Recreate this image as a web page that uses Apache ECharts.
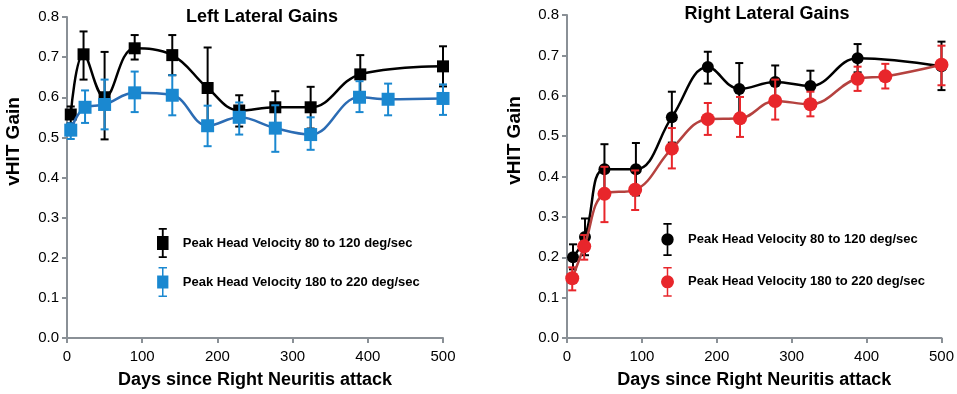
<!DOCTYPE html>
<html>
<head>
<meta charset="utf-8">
<script src="https://cdn.jsdelivr.net/npm/echarts@6/dist/echarts.min.js"></script>
<style>html,body{margin:0;padding:0;background:#fff}#c{width:957px;height:394px}</style>
</head>
<body>
<div id="c"></div>
<script>
// ---- data ----
const xTicks = [0, 100, 200, 300, 400, 500];
const yTicks = [0.0, 0.1, 0.2, 0.3, 0.4, 0.5, 0.6, 0.7, 0.8];
const titles = ['Left Lateral Gains', 'Right Lateral Gains'];
const label80 = 'Peak Head Velocity 80 to 120 deg/sec';
const label180 = 'Peak Head Velocity 180 to 220 deg/sec';

const leftDays80 = [5, 22, 50, 90, 140, 187, 229, 277, 324, 390, 500];
const left80     = [0.557, 0.707, 0.600, 0.722, 0.705, 0.623, 0.567, 0.575, 0.575, 0.657, 0.677];
const left80Hi   = [0.577, 0.764, 0.713, 0.755, 0.755, 0.724, 0.605, 0.615, 0.626, 0.705, 0.727];
const left80Lo   = [0.535, 0.644, 0.495, 0.694, 0.655, 0.522, 0.527, 0.535, 0.522, 0.610, 0.627];

const leftDays180 = [5, 24, 50, 90, 140, 187, 229, 277, 324, 389, 427, 500];
const left180     = [0.518, 0.575, 0.582, 0.611, 0.605, 0.529, 0.550, 0.523, 0.507, 0.600, 0.595, 0.597];
const left180Hi   = [0.535, 0.617, 0.644, 0.664, 0.655, 0.579, 0.587, 0.580, 0.550, 0.640, 0.634, 0.632];
const left180Lo   = [0.496, 0.536, 0.520, 0.563, 0.555, 0.478, 0.507, 0.464, 0.469, 0.563, 0.555, 0.556];

const rightDays80 = [8, 24, 50, 92, 140, 188, 230, 278, 325, 388, 500];
const right80     = [0.200, 0.250, 0.418, 0.418, 0.547, 0.671, 0.617, 0.634, 0.624, 0.693, 0.673];
const right80Hi   = [0.232, 0.296, 0.480, 0.483, 0.610, 0.709, 0.681, 0.675, 0.662, 0.728, 0.734];
const right80Lo   = [0.170, 0.205, 0.356, 0.353, 0.484, 0.630, 0.553, 0.593, 0.586, 0.658, 0.614];

const rightDays180 = [7, 23, 50, 91, 140, 188, 231, 278, 325, 388, 425, 500];
const right180     = [0.148, 0.227, 0.357, 0.367, 0.469, 0.542, 0.544, 0.587, 0.579, 0.642, 0.648, 0.677];
const right180Hi   = [0.175, 0.255, 0.424, 0.415, 0.520, 0.582, 0.597, 0.640, 0.610, 0.672, 0.679, 0.724];
const right180Lo   = [0.118, 0.194, 0.287, 0.317, 0.420, 0.503, 0.498, 0.541, 0.549, 0.612, 0.618, 0.626];

// ---- styling ----
const FONT = 'Liberation Sans, Arial, sans-serif';
const AXIS_GRAY = '#8a9096';
const BLACK = '#000000';
const BLUE = '#1a88d0', BLUE_LINE = '#2b6cb4';
const RED = '#e8262b', RED_LINE = '#b5423f';

const pts = (xs, ys) => xs.map((x, i) => [x, ys[i]]);
const errs = (xs, lo, hi) => xs.map((x, i) => [x, lo[i], hi[i]]);

function errSeries(name, gi, data, color, z) {
  return {
    type: 'custom', name: name + '_err', xAxisIndex: gi, yAxisIndex: gi, z: z,
    data: data, silent: true,
    renderItem: function (params, api) {
      const x = api.value(0);
      const lo = api.coord([x, api.value(1)]);
      const hi = api.coord([x, api.value(2)]);
      const cw = 4;
      const st = { stroke: color, lineWidth: 2 };
      return { type: 'group', children: [
        { type: 'line', shape: { x1: hi[0], y1: hi[1], x2: lo[0], y2: lo[1] }, style: st },
        { type: 'line', shape: { x1: hi[0] - cw, y1: hi[1], x2: hi[0] + cw, y2: hi[1] }, style: st },
        { type: 'line', shape: { x1: lo[0] - cw, y1: lo[1], x2: lo[0] + cw, y2: lo[1] }, style: st }
      ]};
    }
  };
}
function lineSeries(name, gi, data, mColor, lColor, symbol, size, z) {
  return {
    type: 'line', name: name, xAxisIndex: gi, yAxisIndex: gi, z: z,
    data: data, smooth: 0.4, symbol: symbol, symbolSize: size, showSymbol: true,
    itemStyle: { color: mColor, opacity: 1 },
    lineStyle: { color: lColor, width: 2.5 },
    emphasis: { disabled: true }, animation: false
  };
}

const grids = [
  { left: 67, right: 514, top: 17, bottom: 51 },
  { left: 567, right: 15, top: 15, bottom: 52 }
];
const xAxes = grids.map((g, i) => ({
  type: 'value', gridIndex: i, min: 0, max: 500, interval: 100,
  name: 'Days since Right Neuritis attack', nameLocation: 'middle', nameGap: 33,
  nameTextStyle: { fontFamily: FONT, fontWeight: 'bold', fontSize: 18, color: '#000' },
  axisLine: { show: true, lineStyle: { color: AXIS_GRAY, width: 2 } },
  axisTick: { show: true, length: 5, lineStyle: { color: AXIS_GRAY, width: 2 } },
  axisLabel: { fontFamily: FONT, fontSize: 15, color: '#000', margin: 11 },
  splitLine: { show: false }
}));
const yAxes = grids.map((g, i) => ({
  type: 'value', gridIndex: i, min: 0, max: 0.8, interval: 0.1,
  name: 'vHIT Gain', nameLocation: 'middle', nameGap: i === 0 ? 44 : 43,
  nameTextStyle: { fontFamily: FONT, fontWeight: 'bold', fontSize: 19, color: '#000',
    padding: [0, 0, 0, 72] },
  axisLine: { show: true, lineStyle: { color: AXIS_GRAY, width: 2 } },
  axisTick: { show: true, length: 5, lineStyle: { color: AXIS_GRAY, width: 2 } },
  axisLabel: { fontFamily: FONT, fontSize: 15, color: '#000', margin: 8,
    formatter: v => v.toFixed(1) },
  splitLine: { show: false }
}));

const sqIcon80 = 'path://M1.5,0H8.5V1.6H5.8V7H4.2V1.6H1.5Z M0,7H10V19H0Z M4.2,19H5.8V24.4H8.5V26H1.5V24.4H4.2Z';
const sqIcon180 = 'path://M1.5,0H10.5V1.6H6.8V9H5.2V1.6H1.5Z M0,9H12V23H0Z M5.2,23H6.8V30.4H10.5V32H1.5V30.4H5.2Z';
const ciIcon = 'path://M2,0H10V1.6H6.8V10.2H5.2V1.6H2Z M0,16A6,6 0 1,1 12,16A6,6 0 1,1 0,16Z M5.2,21.8H6.8V30.4H10V32H2V30.4H5.2Z';
const ciIconR = 'path://M2.5,0H11.5V1.6H7.8V9.2H6.2V1.6H2.5Z M0,16A7,7 0 1,1 14,16A7,7 0 1,1 0,16Z M6.2,22.8H7.8V30.4H11.5V32H2.5V30.4H6.2Z';

const legendText = { fontFamily: FONT, fontWeight: 'bold', fontSize: 13, color: '#000', padding: [0, 0, 0, 9] };
const fmt = n => (n.indexOf('180') >= 0 ? label180 : label80);

const option = {
  animation: false,
  backgroundColor: '#fff',
  title: [
    { text: titles[0], left: 257, top: 3, textAlign: 'center',
      textStyle: { fontFamily: FONT, fontWeight: 'bold', fontSize: 18, color: '#000' } },
    { text: titles[1], left: 762, top: 0, textAlign: 'center',
      textStyle: { fontFamily: FONT, fontWeight: 'bold', fontSize: 18, color: '#000' } }
  ],
  legend: [
    { orient: 'vertical', left: 152, top: 223, itemGap: 9, selectedMode: false,
      itemWidth: 12, itemHeight: 30, textStyle: legendText, formatter: fmt,
      data: [{ name: 'L80', icon: sqIcon80 }, { name: 'L180', icon: sqIcon180 }] },
    { orient: 'vertical', left: 656, top: 218, itemGap: 11, selectedMode: false,
      itemWidth: 13, itemHeight: 33, textStyle: legendText, formatter: fmt,
      data: [{ name: 'R80', icon: ciIcon }, { name: 'R180', icon: ciIconR }] }
  ],
  grid: grids,
  xAxis: xAxes,
  yAxis: yAxes,
  series: [
    errSeries('L80', 0, errs(leftDays80, left80Lo, left80Hi), BLACK, 2),
    lineSeries('L80', 0, pts(leftDays80, left80), BLACK, BLACK, 'rect', 12, 3),
    errSeries('L180', 0, errs(leftDays180, left180Lo, left180Hi), BLUE, 4),
    lineSeries('L180', 0, pts(leftDays180, left180), BLUE, BLUE_LINE, 'rect', 13, 5),
    errSeries('R80', 1, errs(rightDays80, right80Lo, right80Hi), BLACK, 2),
    lineSeries('R80', 1, pts(rightDays80, right80), BLACK, BLACK, 'circle', 12, 3),
    errSeries('R180', 1, errs(rightDays180, right180Lo, right180Hi), RED, 4),
    lineSeries('R180', 1, pts(rightDays180, right180), RED, RED_LINE, 'circle', 14, 5)
  ]
};
const chart = echarts.init(document.getElementById('c'), null, { renderer: 'canvas' });
chart.setOption(option);
</script>
</body>
</html>
